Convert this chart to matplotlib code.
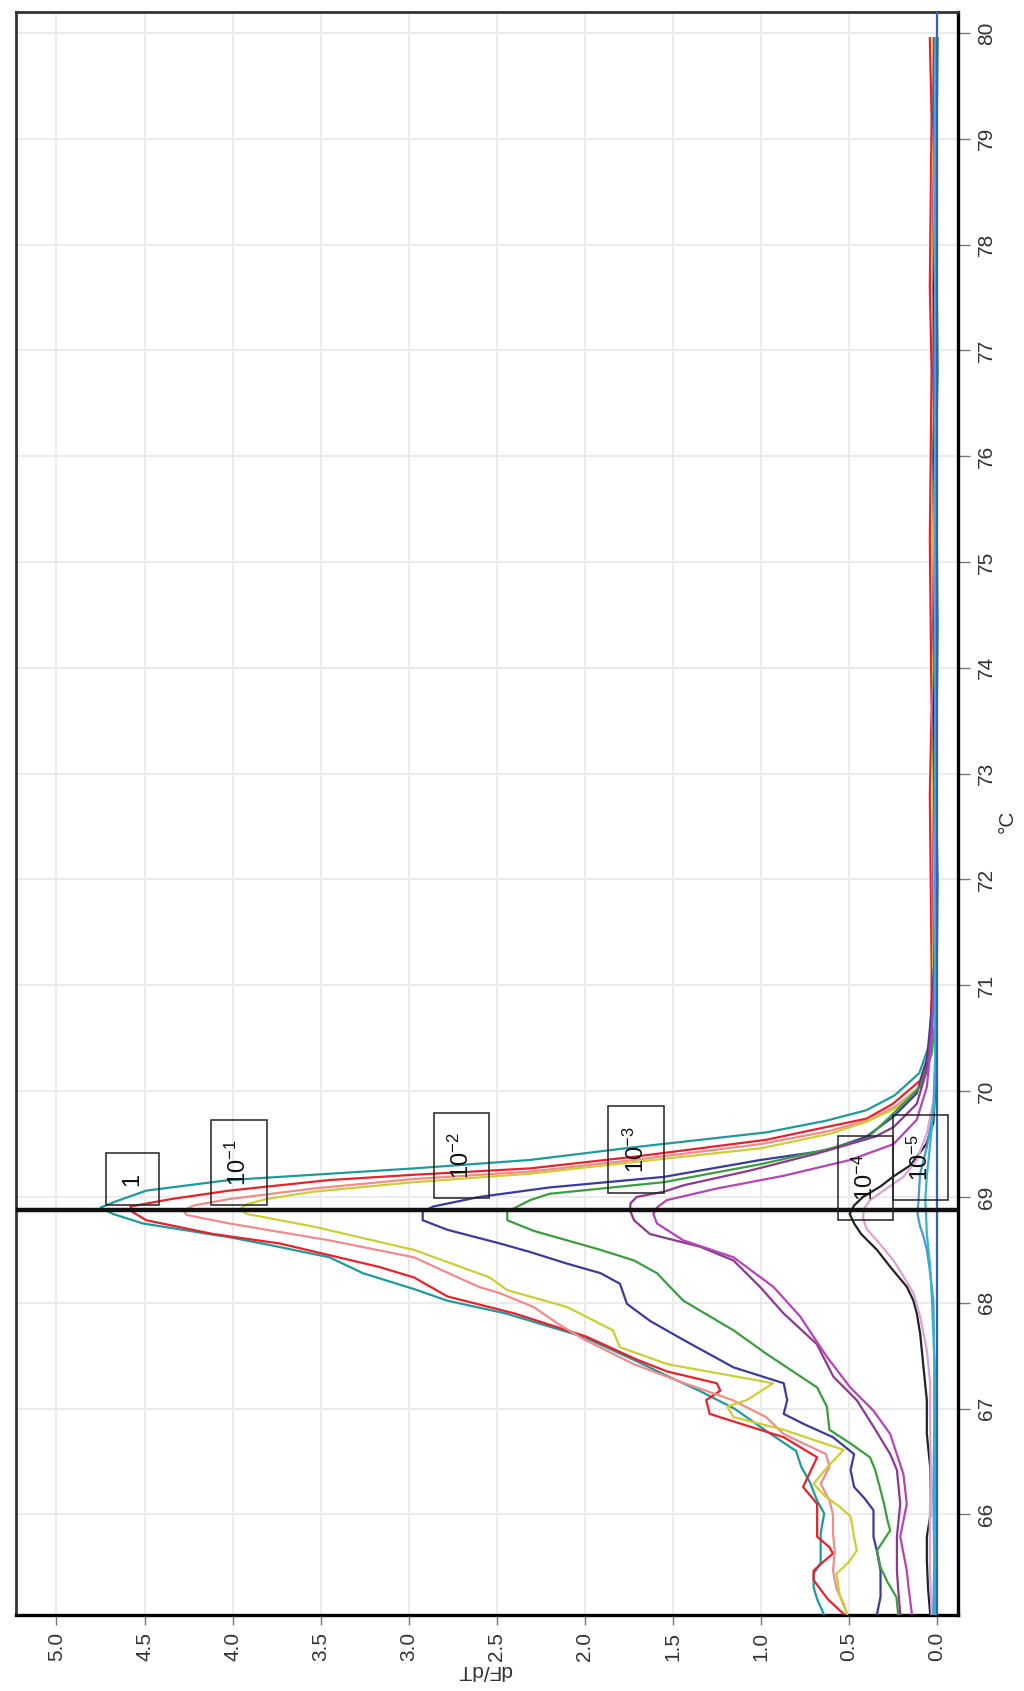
import matplotlib
matplotlib.use("Agg")
import matplotlib.pyplot as plt
from matplotlib.patches import Rectangle

plt.rcParams['font.family'] = ['Liberation Sans', 'DejaVu Sans']
plt.rcParams['mathtext.fontset'] = 'custom'
plt.rcParams['mathtext.rm'] = 'Liberation Sans'
plt.rcParams['mathtext.it'] = 'Liberation Sans:italic'
plt.rcParams['mathtext.bf'] = 'Liberation Sans:bold'

# ---------------------------------------------------------------- axes ticks
temp_ticks = [66, 67, 68, 69, 70, 71, 72, 73, 74, 75, 76, 77, 78, 79, 80]
dfdt_ticks = [0.0, 0.5, 1.0, 1.5, 2.0, 2.5, 3.0, 3.5, 4.0, 4.5, 5.0]
melt_peak = 68.88

# flat high-temperature part shared by every trace
tail_temps = [71.2, 72.0, 72.8, 73.6, 74.4, 75.2, 76.0, 76.8, 77.6, 78.4, 79.2, 79.95]

# ---------------------------------------------------------------- dilution 1
teal_t = [65.05, 65.2, 65.31, 65.44, 65.54, 65.7, 65.82, 66.01, 66.13, 66.3, 66.45, 66.6,
          66.79, 67.0, 67.17, 67.3, 67.46, 67.68, 67.9, 68.02, 68.13, 68.28, 68.43, 68.55,
          68.62, 68.75, 68.84, 68.9, 68.96, 69.06, 69.16, 69.21, 69.27, 69.35, 69.47, 69.61,
          69.72, 69.82, 69.96, 70.17, 70.45, 70.9]
teal_d = [0.64, 0.68, 0.70, 0.70, 0.66, 0.66, 0.66, 0.64, 0.68, 0.72, 0.77, 0.80,
          0.97, 1.15, 1.35, 1.52, 1.72, 2.01, 2.45, 2.78, 2.97, 3.26, 3.45, 3.80,
          4.02, 4.51, 4.68, 4.75, 4.66, 4.49, 4.02, 3.54, 2.97, 2.31, 1.72, 0.97,
          0.63, 0.40, 0.24, 0.10, 0.04, 0.02]
teal_tail = [0.015, 0.02, 0.01, 0.015, 0.02, 0.01, 0.015, 0.02, 0.01, 0.015, 0.02, 0.015]

red_t = [65.06, 65.2, 65.38, 65.47, 65.56, 65.63, 65.69, 65.79, 65.88, 66.1, 66.26, 66.4,
         66.54, 66.73, 66.85, 66.95, 67.08, 67.17, 67.24, 67.35, 67.46, 67.68, 67.9, 68.06,
         68.24, 68.34, 68.45, 68.56, 68.65, 68.78, 68.86, 68.91, 68.98, 69.06, 69.16, 69.21,
         69.27, 69.38, 69.54, 69.66, 69.74, 69.88, 70.1, 70.39, 70.9]
red_d = [0.53, 0.62, 0.70, 0.70, 0.64, 0.59, 0.61, 0.68, 0.68, 0.68, 0.76, 0.72,
         0.68, 0.87, 1.10, 1.29, 1.31, 1.23, 1.25, 1.53, 1.70, 1.99, 2.40, 2.78,
         2.97, 3.17, 3.45, 3.73, 4.11, 4.49, 4.57, 4.58, 4.35, 4.02, 3.45, 2.97,
         2.31, 1.72, 0.97, 0.63, 0.40, 0.25, 0.095, 0.04, 0.03]
red_tail = [0.03, 0.035, 0.04, 0.03, 0.035, 0.04, 0.035, 0.03, 0.04, 0.035, 0.03, 0.04]

# ---------------------------------------------------------------- dilution 10^-1
pink_t = [65.06, 65.16, 65.3, 65.47, 65.65, 65.82, 66.0, 66.13, 66.29, 66.45, 66.57, 66.76,
          66.92, 67.08, 67.25, 67.42, 67.65, 67.8, 67.96, 68.09, 68.15, 68.3, 68.43, 68.59,
          68.75, 68.83, 68.87, 68.92, 68.98, 69.08, 69.17, 69.24, 69.35, 69.5, 69.62, 69.72,
          69.86, 70.05, 70.35, 70.85]
pink_d = [0.51, 0.53, 0.57, 0.59, 0.58, 0.59, 0.59, 0.61, 0.66, 0.61, 0.63, 0.87,
          0.97, 1.16, 1.45, 1.72, 2.00, 2.15, 2.29, 2.48, 2.60, 2.80, 2.97, 3.45,
          4.02, 4.26, 4.28, 4.22, 4.02, 3.54, 2.97, 2.31, 1.72, 1.0, 0.62, 0.40,
          0.23, 0.09, 0.035, 0.02]
pink_tail = [0.02, 0.025, 0.02, 0.015, 0.02, 0.025, 0.02, 0.015, 0.02, 0.025, 0.02, 0.02]

yellow_t = [65.06, 65.22, 65.44, 65.55, 65.66, 65.79, 65.98, 66.07, 66.18, 66.29, 66.45, 66.61,
            66.8, 66.92, 67.02, 67.08, 67.24, 67.42, 67.58, 67.74, 67.96, 68.12, 68.24, 68.5,
            68.72, 68.84, 68.88, 68.93, 68.98, 69.05, 69.14, 69.22, 69.33, 69.46, 69.6, 69.71,
            69.85, 70.05, 70.35, 70.8]
yellow_d = [0.51, 0.55, 0.57, 0.50, 0.455, 0.47, 0.49, 0.55, 0.64, 0.70, 0.62, 0.53,
            0.87, 1.155, 1.19, 1.08, 0.93, 1.53, 1.80, 1.84, 2.10, 2.44, 2.54, 2.97,
            3.54, 3.92, 3.96, 3.92, 3.81, 3.54, 2.97, 2.31, 1.72, 1.0, 0.60, 0.40,
            0.22, 0.09, 0.035, 0.02]
yellow_tail = [0.02, 0.015, 0.02, 0.025, 0.015, 0.02, 0.02, 0.015, 0.025, 0.02, 0.015, 0.02]

# ---------------------------------------------------------------- dilution 10^-2
blue_t = [65.06, 65.22, 65.47, 65.65, 65.79, 66.04, 66.15, 66.26, 66.42, 66.57, 66.73, 66.85,
          66.95, 67.08, 67.24, 67.39, 67.65, 67.83, 67.99, 68.18, 68.28, 68.37, 68.48, 68.56,
          68.69, 68.78, 68.86, 68.91, 69.0, 69.09, 69.19, 69.35, 69.44, 69.57, 69.76, 69.98,
          70.29, 70.76]
blue_d = [0.34, 0.32, 0.32, 0.34, 0.36, 0.36, 0.41, 0.47, 0.49, 0.47, 0.59, 0.75,
          0.87, 0.85, 0.87, 1.155, 1.44, 1.63, 1.76, 1.80, 1.91, 2.10, 2.31, 2.48,
          2.78, 2.92, 2.92, 2.86, 2.60, 2.20, 1.55, 1.0, 0.625, 0.40, 0.246, 0.114,
          0.057, 0.03]
blue_tail = [0.015, 0.01, 0.015, 0.02, 0.01, 0.015, 0.02, 0.01, 0.015, 0.01, 0.02, 0.015]

green_t = [65.06, 65.22, 65.36, 65.5, 65.66, 65.85, 65.94, 66.1, 66.23, 66.42, 66.54, 66.67,
           66.8, 67.02, 67.2, 67.52, 67.74, 68.02, 68.28, 68.4, 68.5, 68.68, 68.78, 68.86,
           68.97, 69.03, 69.14, 69.31, 69.45, 69.55, 69.79, 70.04, 70.35, 70.8]
green_d = [0.22, 0.23, 0.28, 0.32, 0.34, 0.265, 0.28, 0.30, 0.32, 0.35, 0.38, 0.49,
           0.61, 0.625, 0.68, 0.97, 1.155, 1.44, 1.59, 1.72, 1.91, 2.29, 2.44, 2.44,
           2.31, 2.20, 1.55, 1.0, 0.625, 0.40, 0.246, 0.095, 0.03, 0.0]
green_tail = [0.0, -0.005, 0.005, 0.0, -0.005, 0.0, 0.005, -0.005, 0.0, 0.005, 0.0, -0.005]

# ---------------------------------------------------------------- dilution 10^-3
purple_t = [65.06, 65.3, 65.47, 65.79, 66.1, 66.42, 66.57, 66.83, 67.08, 67.3, 67.61, 67.9,
            68.15, 68.4, 68.53, 68.65, 68.78, 68.87, 68.94, 69.0, 69.05, 69.11, 69.25, 69.41,
            69.57, 69.66, 69.88, 70.2, 70.6]
purple_d = [0.208, 0.22, 0.227, 0.227, 0.208, 0.227, 0.265, 0.36, 0.455, 0.587, 0.682, 0.871,
            1.004, 1.155, 1.345, 1.63, 1.72, 1.742, 1.74, 1.705, 1.55, 1.44, 1.06, 0.682,
            0.35, 0.246, 0.114, 0.057, 0.03]
purple_tail = [0.015, 0.02, 0.015, 0.01, 0.02, 0.015, 0.01, 0.02, 0.015, 0.02, 0.01, 0.015]

magenta_t = [65.06, 65.3, 65.47, 65.79, 66.1, 66.38, 66.76, 66.98, 67.2, 67.49, 67.87, 68.15,
             68.43, 68.59, 68.75, 68.84, 68.9, 68.97, 69.08, 69.2, 69.35, 69.5, 69.73, 70.04,
             70.5]
magenta_d = [0.142, 0.16, 0.171, 0.208, 0.171, 0.19, 0.265, 0.36, 0.492, 0.625, 0.776, 0.928,
             1.155, 1.44, 1.59, 1.61, 1.59, 1.534, 1.25, 0.871, 0.492, 0.246, 0.114, 0.057,
             0.03]
magenta_tail = [0.01, 0.015, 0.01, 0.02, 0.01, 0.015, 0.01, 0.015, 0.02, 0.01, 0.015, 0.01]

# ---------------------------------------------------------------- dilution 10^-4
black_t = [65.06, 65.3, 65.57, 65.79, 65.98, 66.45, 66.76, 67.08, 67.39, 67.71, 67.9, 68.02,
           68.15, 68.34, 68.5, 68.65, 68.75, 68.84, 68.92, 69.0, 69.1, 69.19, 69.3, 69.5,
           69.7, 70.0, 70.4]
black_d = [0.038, 0.05, 0.057, 0.057, 0.038, 0.038, 0.057, 0.057, 0.076, 0.095, 0.114, 0.133,
           0.17, 0.265, 0.34, 0.43, 0.47, 0.495, 0.47, 0.42, 0.32, 0.25, 0.15, 0.06,
           0.02, 0.01, 0.01]
black_tail = [0.01, 0.005, 0.01, 0.015, 0.005, 0.01, 0.005, 0.01, 0.015, 0.01, 0.005, 0.01]

orchid_t = [65.06, 65.5, 66.0, 66.5, 67.0, 67.24, 67.55, 67.87, 68.09, 68.25, 68.4, 68.59,
            68.7, 68.81, 68.9, 68.97, 69.06, 69.19, 69.35, 69.6, 69.9, 70.3]
orchid_d = [0.03, 0.04, 0.04, 0.035, 0.04, 0.038, 0.057, 0.095, 0.133, 0.19, 0.246, 0.341,
            0.40, 0.42, 0.41, 0.379, 0.303, 0.19, 0.114, 0.057, 0.02, 0.01]
orchid_tail = [0.01, 0.015, 0.01, 0.005, 0.01, 0.015, 0.01, 0.005, 0.01, 0.015, 0.01, 0.01]

# ---------------------------------------------------------------- dilution 10^-5
lightblue_t = [65.06, 65.6, 66.2, 66.8, 67.4, 67.8, 68.02, 68.28, 68.5, 68.65, 68.72, 68.84,
               68.97, 69.1, 69.22, 69.47, 69.82, 70.2]
lightblue_d = [0.02, 0.015, 0.02, 0.015, 0.015, 0.018, 0.02, 0.038, 0.057, 0.08, 0.095, 0.11,
               0.104, 0.10, 0.095, 0.057, 0.019, 0.01]
lightblue_tail = [0.005, 0.01, 0.005, 0.01, 0.005, 0.01, 0.005, 0.01, 0.005, 0.01, 0.005, 0.01]

cyan_t = [65.06, 65.8, 66.6, 67.4, 68.02, 68.34, 68.65, 68.85, 68.97, 69.2, 69.5, 69.9, 70.3]
cyan_d = [0.01, 0.012, 0.01, 0.012, 0.028, 0.038, 0.057, 0.062, 0.066, 0.057, 0.038, 0.015, 0.01]
cyan_tail = [0.01, 0.005, 0.01, 0.005, 0.01, 0.005, 0.01, 0.005, 0.01, 0.005, 0.01, 0.005]

# ---------------------------------------------------------------- dilution labels
dilution_labels = ['1', r'$\mathregular{10^{-1}}$', r'$\mathregular{10^{-2}}$',
                   r'$\mathregular{10^{-3}}$', r'$\mathregular{10^{-4}}$',
                   r'$\mathregular{10^{-5}}$']
# label frames: (dF/dT low, dF/dT high, temp low, temp high)
label_frames = [(4.42, 4.72, 68.92, 69.42),
                (3.805, 4.125, 68.92, 69.725),
                (2.543, 2.855, 68.99, 69.79),
                (1.549, 1.867, 69.04, 69.86),
                (0.249, 0.561, 68.78, 69.58),
                (-0.064, 0.249, 68.97, 69.77)]

traces = [
    (teal_t, teal_d, teal_tail, '#1f9a9c'),
    (red_t, red_d, red_tail, '#e8222c'),
    (pink_t, pink_d, pink_tail, '#f28c8c'),
    (yellow_t, yellow_d, yellow_tail, '#cdcd36'),
    (blue_t, blue_d, blue_tail, '#3b3b9c'),
    (green_t, green_d, green_tail, '#3c9c40'),
    (purple_t, purple_d, purple_tail, '#8c3a8e'),
    (magenta_t, magenta_d, magenta_tail, '#b445b6'),
    (black_t, black_d, black_tail, '#222222'),
    (orchid_t, orchid_d, orchid_tail, '#dba2d2'),
    (lightblue_t, lightblue_d, lightblue_tail, '#4a98d8'),
    (cyan_t, cyan_d, cyan_tail, '#35b6c6'),
]

W, H = 1024, 1691
fig = plt.figure(figsize=(W / 100, H / 100), dpi=100, facecolor='white')
ax = fig.add_axes([16 / W, 1 - 1615 / H, (958 - 16) / W, (1615 - 11.7) / H])

ax.set_xlim(5.23, -0.12)
ax.set_ylim(65.05, 80.2)
ax.set_xticks(dfdt_ticks)
ax.set_xticklabels([f'{v:.1f}' for v in dfdt_ticks])
ax.set_yticks(temp_ticks)
ax.set_yticklabels([str(t) for t in temp_ticks])
ax.grid(True, color='#ebebeb', linewidth=1.5)
ax.set_axisbelow(True)

ax.yaxis.tick_right()
ax.tick_params(axis='y', left=False, right=True, labelleft=False, labelright=True,
               length=8.5, width=1.0, color='#777777', labelsize=15,
               labelcolor='#333333', labelrotation=90, pad=5)
ax.tick_params(axis='x', length=7, width=1.0, color='#777777', labelsize=15,
               labelcolor='#333333', labelrotation=90, pad=5)
for lab in ax.get_yticklabels():
    lab.set_verticalalignment('center')

for side, col, lw in [('left', '#333333', 2.0), ('top', '#333333', 2.0),
                      ('right', '#000000', 2.4), ('bottom', '#000000', 2.4)]:
    ax.spines[side].set_color(col)
    ax.spines[side].set_linewidth(lw)

# melt curves, drawn rotated: dF/dT across, temperature up
for t, d, tail, col in traces:
    ax.plot(d + tail, t + tail_temps, color=col, lw=1.6, zorder=3)

ax.axvline(0.0, color='#3a5cc8', lw=1.6, zorder=3)
ax.axhline(melt_peak, color='#111111', lw=3.2, zorder=5)

for lab, (v0, v1, t0, t1) in zip(dilution_labels, label_frames):
    ax.add_patch(Rectangle((v0, t0), v1 - v0, t1 - t0, fill=False,
                           edgecolor='#222222', lw=1.1, zorder=6))
    ax.text((v0 + v1) / 2, (t0 + t1) / 2, lab, rotation=90, ha='center',
            va='center', fontsize=17, color='#111111', zorder=7)

ax.set_xlabel('dF/dT', rotation=180, fontsize=15, color='#333333')
ax.xaxis.set_label_coords(0.498, -0.029)
ax.yaxis.set_label_position('right')
ax.set_ylabel('°C', rotation=90, fontsize=15, color='#333333', va='center', ha='center')
ax.yaxis.set_label_coords(1.052, 0.495)

fig.savefig('out.png', dpi=100, facecolor='white')
